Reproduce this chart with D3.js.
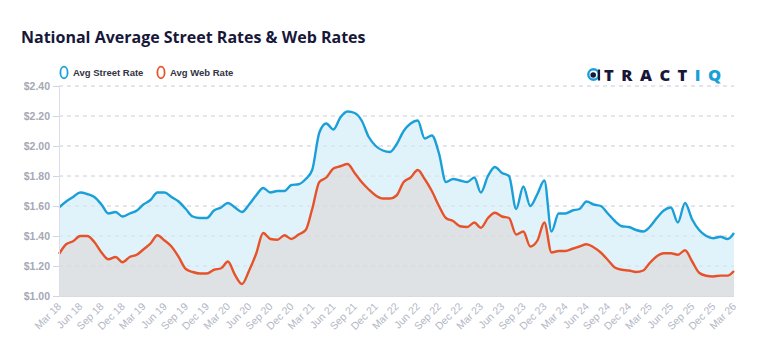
<!DOCTYPE html>
<html>
<head>
<meta charset="utf-8">
<script src="https://cdn.jsdelivr.net/npm/d3@7"></script>
<style>
  html, body { margin: 0; padding: 0; background: #ffffff; }
  svg { display: block; }
</style>
</head>
<body>
<svg id="chart" width="768" height="356"></svg>
<script>
// ---------- DATA ----------
const startMonth = new Date(2018, 2, 1); // Mar 2018
const endMonth = new Date(2026, 3, 1);   // exclusive (through Mar 2026)
const months = d3.timeMonth.range(startMonth, endMonth);

const streetRate = [
  1.59, 1.63, 1.66, 1.69, 1.68, 1.66, 1.61, 1.55, 1.56, 1.53,
  1.55, 1.57, 1.61, 1.64, 1.69, 1.69, 1.66, 1.63, 1.58, 1.53,
  1.52, 1.52, 1.57, 1.59, 1.62, 1.59, 1.56, 1.61, 1.67, 1.72,
  1.69, 1.70, 1.70, 1.74, 1.745, 1.78, 1.84, 2.09, 2.15, 2.11,
  2.19, 2.23, 2.22, 2.17, 2.06, 2.00, 1.97, 1.96, 2.01, 2.10,
  2.15, 2.17, 2.05, 2.07, 1.95, 1.76, 1.78, 1.77, 1.76, 1.79,
  1.69, 1.80, 1.86, 1.82, 1.80, 1.58, 1.73, 1.60, 1.68, 1.77,
  1.43, 1.55, 1.55, 1.57, 1.58, 1.63, 1.61, 1.60, 1.55, 1.50,
  1.465, 1.46, 1.44, 1.43, 1.46, 1.52, 1.57, 1.59, 1.49, 1.62,
  1.51, 1.44, 1.40, 1.385, 1.395, 1.38, 1.42
];

const webRate = [
  1.28, 1.345, 1.365, 1.40, 1.40, 1.36, 1.29, 1.245, 1.26, 1.225,
  1.26, 1.275, 1.31, 1.35, 1.405, 1.37, 1.33, 1.26, 1.18, 1.16,
  1.15, 1.15, 1.175, 1.185, 1.23, 1.14, 1.08, 1.17, 1.28, 1.42,
  1.38, 1.375, 1.405, 1.38, 1.41, 1.44, 1.58, 1.76, 1.79, 1.85,
  1.865, 1.88, 1.82, 1.76, 1.71, 1.67, 1.65, 1.65, 1.67, 1.76,
  1.79, 1.84, 1.78, 1.70, 1.60, 1.52, 1.50, 1.465, 1.46, 1.49,
  1.455, 1.52, 1.555, 1.53, 1.52, 1.41, 1.43, 1.33, 1.37, 1.49,
  1.29, 1.30, 1.30, 1.315, 1.33, 1.345, 1.325, 1.29, 1.24, 1.19,
  1.175, 1.17, 1.16, 1.17, 1.22, 1.265, 1.285, 1.285, 1.275, 1.305,
  1.23, 1.155, 1.135, 1.13, 1.136, 1.136, 1.167
];

const yTicks = [1.0, 1.2, 1.4, 1.6, 1.8, 2.0, 2.2, 2.4];
const xTickLabels = [
  "Mar 18","Jun 18","Sep 18","Dec 18","Mar 19","Jun 19","Sep 19","Dec 19",
  "Mar 20","Jun 20","Sep 20","Dec 20","Mar 21","Jun 21","Sep 21","Dec 21",
  "Mar 22","Jun 22","Sep 22","Dec 22","Mar 23","Jun 23","Sep 23","Dec 23",
  "Mar 24","Jun 24","Sep 24","Dec 24","Mar 25","Jun 25","Sep 25","Dec 25","Mar 26"
];
const seriesNames = ["Avg Street Rate", "Avg Web Rate"];
const titleText = "National Average Street Rates & Web Rates";

// ---------- LAYOUT ----------
const svg = d3.select("#chart");
const plotLeft = 59, plotRight = 734, plotTop = 86, plotBottom = 296;

const x = d3.scaleTime().domain([months[0], months[months.length - 1]]).range([plotLeft, plotRight]);
const y = d3.scaleLinear().domain([1.0, 2.4]).range([plotBottom, plotTop]);

const streetData = months.map((d, i) => ({ date: d, v: streetRate[i] }));
const webData = months.map((d, i) => ({ date: d, v: webRate[i] }));

const blue = "#1a9fd9", red = "#e6532b";
const curve = d3.curveMonotoneX;

// Title
svg.append("text")
  .attr("x", 21).attr("y", 43)
  .attr("font-family", "'Open Sans', sans-serif")
  .attr("font-weight", 700)
  .attr("font-size", 16)
  .attr("fill", "#17173a")
  .text(titleText);

// Gridlines
const gridVals = yTicks.filter(v => v > 1.0);
svg.append("g").selectAll("line").data(gridVals).join("line")
  .attr("x1", plotLeft).attr("x2", plotRight)
  .attr("y1", d => y(d)).attr("y2", d => y(d))
  .attr("stroke", "#dcdde3").attr("stroke-width", 1)
  .attr("stroke-dasharray", "4,4");

// Areas
const area = d3.area().x(d => x(d.date)).y0(y(1.0)).y1(d => y(d.v)).curve(curve);
svg.append("path").datum(streetData).attr("d", area).attr("fill", "#e1f3fa");
svg.append("path").datum(webData).attr("d", area).attr("fill", "#dee2e5");

// Gridlines showing through the fill
svg.append("g").selectAll("line").data(gridVals).join("line")
  .attr("x1", plotLeft).attr("x2", plotRight)
  .attr("y1", d => y(d)).attr("y2", d => y(d))
  .attr("stroke", "#cfd3da").attr("stroke-opacity", 0.6).attr("stroke-width", 1)
  .attr("stroke-dasharray", "4,4");

// Lines
const line = d3.line().x(d => x(d.date)).y(d => y(d.v)).curve(curve);
svg.append("path").datum(streetData).attr("d", line)
  .attr("fill", "none").attr("stroke", blue).attr("stroke-width", 2.4).attr("stroke-linejoin", "round");
svg.append("path").datum(webData).attr("d", line)
  .attr("fill", "none").attr("stroke", red).attr("stroke-width", 2.4).attr("stroke-linejoin", "round");

// Y axis
const yAxis = d3.axisLeft(y).tickValues(yTicks).tickSize(6).tickPadding(3)
  .tickFormat(d => "$" + d3.format(".2f")(d));
const gy = svg.append("g").attr("transform", `translate(${plotLeft},0)`).call(yAxis);
gy.select(".domain").attr("stroke", "#dcdde6").attr("stroke-width", 1);
gy.selectAll(".tick line").attr("stroke", "#d3d5de");
gy.selectAll(".tick text")
  .attr("font-family", "'Liberation Sans', Arial, sans-serif")
  .attr("font-size", 10.5).attr("font-weight", 700).attr("fill", "#a5a8b5");

// X axis baseline
svg.append("line").attr("x1", plotLeft).attr("x2", plotRight)
  .attr("y1", plotBottom + 0.5).attr("y2", plotBottom + 0.5)
  .attr("stroke", "#d9dbe3").attr("stroke-width", 1);

// X tick labels
const xTickDates = xTickLabels.map((_, i) => d3.timeMonth.offset(months[0], i * 3));
svg.append("g").selectAll("text").data(xTickDates).join("text")
  .attr("transform", d => `translate(${x(d) + 3},${plotBottom + 11}) rotate(-45)`)
  .attr("text-anchor", "end")
  .attr("font-family", "'Liberation Sans', Arial, sans-serif")
  .attr("font-size", 10.5)
  .attr("fill", "#b3b7c6")
  .text((d, i) => xTickLabels[i]);

// Legend
const legend = svg.append("g");
const legendItems = [
  { name: seriesNames[0], color: blue, x: 64 },
  { name: seriesNames[1], color: red, x: 161 }
];
legendItems.forEach(it => {
  legend.append("ellipse").attr("cx", it.x).attr("cy", 72.5).attr("rx", 3.6).attr("ry", 5.8)
    .attr("fill", "none").attr("stroke", it.color).attr("stroke-width", 1.8);
  legend.append("text").attr("x", it.x + 9).attr("y", 76)
    .attr("font-family", "'Liberation Sans', Arial, sans-serif")
    .attr("font-size", 9.5).attr("font-weight", 700).attr("fill", "#333344")
    .text(it.name);
});

// Logo
const logo = svg.append("g");
logo.append("circle").attr("cx", 593.5).attr("cy", 74.5).attr("r", 5.2)
  .attr("fill", "none").attr("stroke", "#1a9fd9").attr("stroke-width", 2.4);
logo.append("circle").attr("cx", 593.2).attr("cy", 75).attr("r", 2.8).attr("fill", "#17173a");
logo.append("line").attr("x1", 599).attr("x2", 599).attr("y1", 69.5).attr("y2", 80.5)
  .attr("stroke", "#17173a").attr("stroke-width", 2.2);
const logoText = logo.append("text").attr("x", 604).attr("y", 80.5)
  .attr("font-family", "'Open Sans', sans-serif").attr("font-weight", 800)
  .attr("font-size", 16.5).attr("letter-spacing", 7.5);
logoText.append("tspan").attr("fill", "#17173a").text("TRACT");
logoText.append("tspan").attr("fill", "#1a9fd9").text("IQ");
</script>
</body>
</html>
